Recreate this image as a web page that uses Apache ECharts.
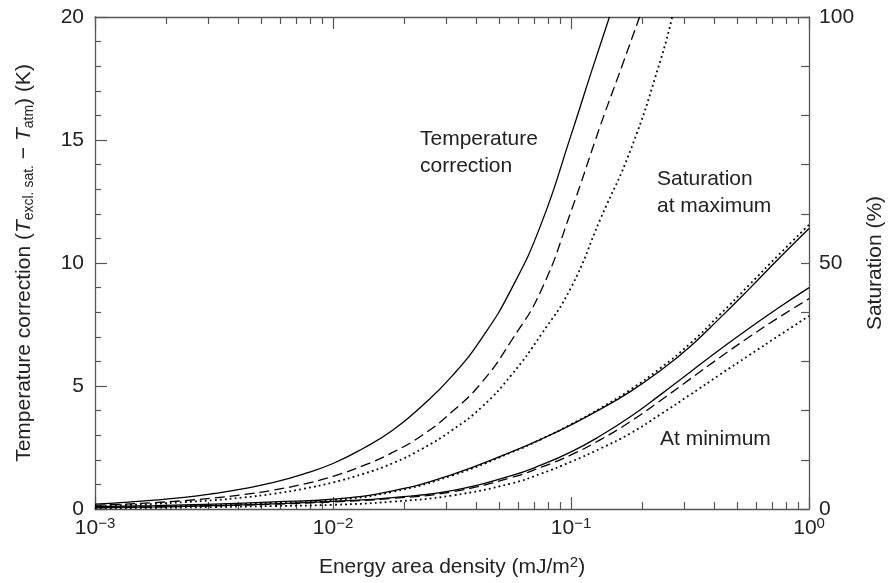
<!DOCTYPE html>
<html>
<head>
<meta charset="utf-8">
<script src="https://cdn.jsdelivr.net/npm/echarts@6/dist/echarts.min.js"></script>
<style>
  html, body { margin: 0; padding: 0; background: #fff; }
  #main { width: 894px; height: 583px; }
</style>
</head>
<body>
<div id="main"></div>
<script>
// energy area density (mJ/m2), log axis
var decadeTicks = [0.001, 0.01, 0.1, 1];
var minorTicks = [];
[0.001, 0.01, 0.1].forEach(function (d) {
    for (var k = 2; k <= 9; k++) minorTicks.push(+(d * k).toPrecision(3));
});

// temperature correction (K); each curve has its own x list since they run off the top
var tempSolidX = [0.001, 0.00133, 0.00178, 0.00237, 0.00316, 0.00422, 0.00562, 0.0075, 0.01, 0.0133,
                  0.0178, 0.0237, 0.0316, 0.0422, 0.0562, 0.075, 0.1, 0.122, 0.145];
var tempSolid  = [0.20, 0.27, 0.36, 0.47, 0.63, 0.83, 1.08, 1.42, 1.85, 2.45,
                  3.2, 4.2, 5.4, 6.95, 8.95, 11.6, 15.2, 17.8, 20];
var tempDashX  = [0.001, 0.00133, 0.00178, 0.00237, 0.00316, 0.00422, 0.00562, 0.0075, 0.01, 0.0133,
                  0.0178, 0.0237, 0.0316, 0.0422, 0.0562, 0.075, 0.1, 0.133, 0.165, 0.194];
var tempDash   = [0.15, 0.20, 0.26, 0.34, 0.45, 0.59, 0.77, 1.01, 1.33, 1.75,
                  2.3, 3.0, 3.95, 5.15, 6.85, 8.9, 12.1, 15.6, 18.1, 20];
var tempDotX   = [0.001, 0.00133, 0.00178, 0.00237, 0.00316, 0.00422, 0.00562, 0.0075, 0.01, 0.0133,
                  0.0178, 0.0237, 0.0316, 0.0422, 0.0562, 0.075, 0.1, 0.133, 0.178, 0.237, 0.266];
var tempDot    = [0.12, 0.16, 0.21, 0.28, 0.36, 0.47, 0.62, 0.82, 1.08, 1.42,
                  1.86, 2.45, 3.2, 4.15, 5.45, 7.1, 9.0, 11.8, 14.6, 18.2, 20];

// saturation (%)
var satX        = [0.001, 0.00178, 0.00316, 0.00562, 0.01, 0.0178, 0.0316, 0.0562, 0.075,
                   0.1, 0.133, 0.178, 0.237, 0.316, 0.422, 0.562, 0.75, 1.0];
var satMaxSolid = [0.5, 0.7, 1.0, 1.45, 2.0, 3.7, 7.0, 11.6, 14.2,
                   17.1, 20.3, 23.9, 28.1, 33.0, 38.8, 44.8, 51.0, 57.0];
var satMaxDot   = [0.35, 0.5, 0.8, 1.25, 1.8, 3.5, 6.8, 11.5, 14.2,
                   17.2, 20.5, 24.3, 28.6, 33.6, 39.5, 45.6, 51.8, 57.75];
var satMinSolid = [0.3, 0.45, 0.7, 1.05, 1.55, 2.3, 3.75, 6.8, 8.95,
                   11.6, 14.9, 18.8, 23.2, 27.8, 32.4, 36.8, 41.0, 45.0];
var satMinDash  = [0.28, 0.42, 0.65, 0.98, 1.45, 2.15, 3.5, 6.4, 8.5,
                   11.0, 14.1, 17.8, 22.0, 26.4, 30.8, 35.0, 39.0, 42.75];
var satMinDot   = [0.15, 0.25, 0.4, 0.6, 0.85, 1.5, 2.75, 5.2, 7.2,
                   9.6, 12.3, 15.4, 19.2, 23.2, 27.3, 31.3, 35.3, 39.25];

var tempLabels = [0, 5, 10, 15, 20];
var satLabels = [0, 50, 100];

function pairs(xs, ys) {
    return xs.map(function (x, i) { return [x, ys[i]]; });
}

var FONT = 'Liberation Sans';
var ink = '#222';
var axisCol = '#555';

var dashStyles = {
    solid: 'solid',
    dashed: [10, 5],
    dotted: [1.8, 3.2]
};

function curve(name, data, yIdx, style) {
    return {
        name: name,
        type: 'line',
        xAxisIndex: 0,
        yAxisIndex: yIdx,
        data: data,
        smooth: true,
        symbol: 'none',
        lineStyle: { color: '#000', width: style === 'dotted' ? 1.8 : 1.3, type: dashStyles[style] }
    };
}

function logAxis(pos, ticks, len, showLine, labels) {
    return {
        type: 'log',
        logBase: 10,
        position: pos,
        min: 0.001,
        max: 1,
        axisLine: { show: showLine, onZero: false, lineStyle: { color: axisCol, width: 1.3 } },
        axisTick: { show: true, inside: true, length: len, customValues: ticks,
                    lineStyle: { color: axisCol, width: 1.2 } },
        axisLabel: labels ? {
            show: true,
            customValues: decadeTicks,
            margin: 7,
            color: ink,
            fontFamily: FONT,
            formatter: function (v) {
                var e = Math.round(Math.log10(v));
                return '{b|10}{sup|' + (e < 0 ? '\u2212' + (-e) : e) + '}';
            },
            rich: {
                b: { fontSize: 21, fontFamily: FONT, color: ink },
                sup: { fontSize: 15, fontFamily: FONT, color: ink, padding: [0, 0, 10, 0] }
            }
        } : { show: false },
        splitLine: { show: false }
    };
}

var xAxes = [
    logAxis('bottom', decadeTicks, 12, true, true),
    logAxis('bottom', minorTicks, 7, false, false),
    logAxis('top', decadeTicks, 12, true, false),
    logAxis('top', minorTicks, 7, false, false)
];
xAxes[0].name = '{t|Energy area density (mJ/m}{sup|2}{t|)}';
xAxes[0].nameLocation = 'middle';
xAxes[0].nameGap = 46;
xAxes[0].nameTextStyle = {
    rich: {
        t: { fontSize: 21, fontFamily: FONT, color: ink },
        sup: { fontSize: 15, fontFamily: FONT, color: ink, padding: [0, 0, 10, 0] }
    }
};

var option = {
    backgroundColor: '#fff',
    animation: false,
    grid: { left: 95, right: 84, top: 17, bottom: 71 },
    xAxis: xAxes,
    yAxis: [
        {
            type: 'value',
            position: 'left',
            min: 0,
            max: 20,
            interval: 5,
            name: '{t|Temperature correction (}{i|T}{sub|excl. sat.}{t| \u2212 }{i|T}{sub|atm}{t|) (K)}',
            nameLocation: 'middle',
            nameRotate: 90,
            nameGap: 59,
            nameTextStyle: {
                rich: {
                    t: { fontSize: 21, fontFamily: FONT, color: ink },
                    i: { fontSize: 21, fontFamily: FONT, color: ink, fontStyle: 'italic' },
                    sub: { fontSize: 14, fontFamily: FONT, color: ink, padding: [10, 0, 0, 0] }
                }
            },
            axisLine: { show: true, onZero: false, lineStyle: { color: axisCol, width: 1.3 } },
            axisTick: { show: true, inside: true, length: 12, lineStyle: { color: axisCol, width: 1.2 } },
            minorTick: { show: true, splitNumber: 5, length: 6, lineStyle: { color: axisCol, width: 1.2 } },
            axisLabel: { customValues: tempLabels, margin: 11, color: ink, fontSize: 21, fontFamily: FONT },
            splitLine: { show: false }
        },
        {
            type: 'value',
            position: 'right',
            min: 0,
            max: 100,
            interval: 10,
            name: 'Saturation (%)',
            nameLocation: 'middle',
            nameRotate: 90,
            nameGap: 52,
            nameTextStyle: { fontSize: 21, fontFamily: FONT, color: ink },
            axisLine: { show: true, onZero: false, lineStyle: { color: axisCol, width: 1.3 } },
            axisTick: { show: true, inside: true, length: 8, lineStyle: { color: axisCol, width: 1.2 } },
            axisLabel: { customValues: satLabels, margin: 10, color: ink, fontSize: 21, fontFamily: FONT },
            splitLine: { show: false }
        }
    ],
    graphic: [
        { type: 'text', left: 420, top: 126,
          style: { text: 'Temperature\ncorrection', font: '21px "Liberation Sans"', fill: ink, lineHeight: 27 } },
        { type: 'text', left: 657, top: 166,
          style: { text: 'Saturation\nat maximum', font: '21px "Liberation Sans"', fill: ink, lineHeight: 27 } },
        { type: 'text', left: 660, top: 426,
          style: { text: 'At minimum', font: '21px "Liberation Sans"', fill: ink, lineHeight: 27 } }
    ],
    series: [
        curve('Temperature correction, solid', pairs(tempSolidX, tempSolid), 0, 'solid'),
        curve('Temperature correction, dashed', pairs(tempDashX, tempDash), 0, 'dashed'),
        curve('Temperature correction, dotted', pairs(tempDotX, tempDot), 0, 'dotted'),
        curve('Saturation at maximum, solid', pairs(satX, satMaxSolid), 1, 'solid'),
        curve('Saturation at maximum, dotted', pairs(satX, satMaxDot), 1, 'dotted'),
        curve('Saturation at minimum, solid', pairs(satX, satMinSolid), 1, 'solid'),
        curve('Saturation at minimum, dashed', pairs(satX, satMinDash), 1, 'dashed'),
        curve('Saturation at minimum, dotted', pairs(satX, satMinDot), 1, 'dotted')
    ]
};

var chart = echarts.init(document.getElementById('main'), null, { renderer: 'canvas' });
chart.setOption(option);
</script>
</body>
</html>
